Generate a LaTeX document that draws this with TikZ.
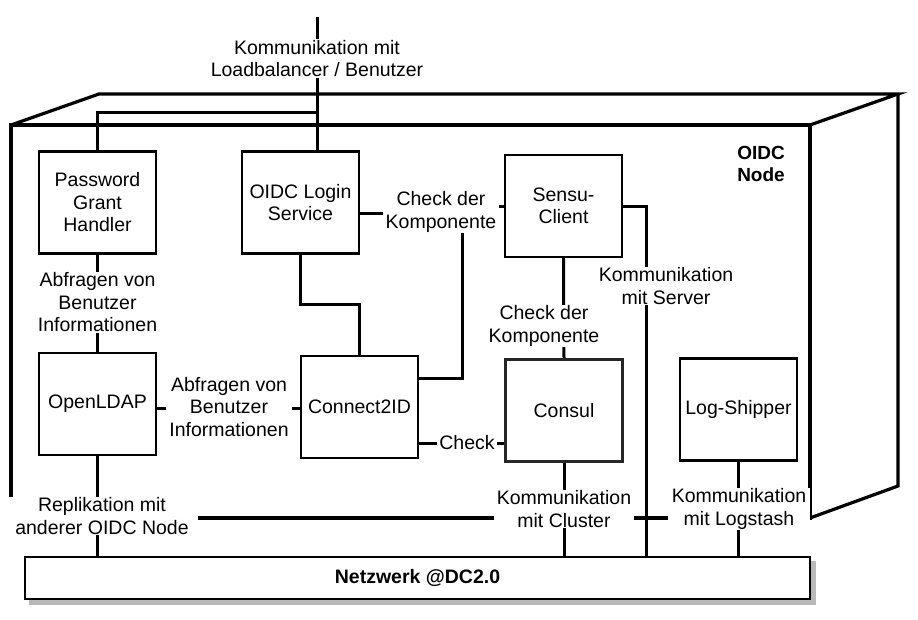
\documentclass[tikz,border=0pt]{standalone}
\usepackage{fontspec}
\setmainfont{Liberation Sans}
\usetikzlibrary{backgrounds}
\newcommand\lblfont{\fontsize{19.5}{22.5}\selectfont}
\newcommand\boldlbl{\fontsize{19}{22}\selectfont\bfseries}
\begin{document}
\begin{tikzpicture}[x=1pt,y=-1pt,
  comp/.style={draw, line width=2.2pt, fill=white, minimum width=117pt, minimum height=102pt, align=center, inner sep=2pt, font=\lblfont},
  lab/.style={fill=white, align=center, inner xsep=3pt, inner ysep=1pt, font=\lblfont},
  conn/.style={line width=3pt},
  cubeedge/.style={line width=3.2pt, line join=miter}]
\useasboundingbox (0,0) rectangle (918,620);

% components
\node[comp] (pgh)    at (97.5,202.5) {Password\\Grant\\Handler};
\node[comp] (login)  at (300.5,202.5) {OIDC Login\\Service};
\node[comp] (sensu)  at (563.5,206) {Sensu-\\Client};
\node[comp] (ldap)   at (97.5,404) {OpenLDAP};
\node[comp] (c2id)   at (359.5,407) {Connect2ID};
\node[comp, draw=black!85] (consul) at (564,410.5) {Consul};
\node[comp] (logs)   at (738.5,409.5) {Log-Shipper};
\node[draw, line width=2.2pt, fill=white, minimum width=785pt, minimum height=42pt, inner sep=0pt,
      font=\fontsize{19.5}{21}\selectfont\bfseries] (net) at (417.5,578) {Netzwerk @DC2.0};

% labels
\node[lab] (ltop)  at (317,58.5) {Kommunikation mit\\Loadbalancer / Benutzer};
\node[lab] (abf1)  at (97.5,302.5) {Abfragen von\\Benutzer\\Informationen};
\node[lab] (chk1)  at (441,212) {Check der\\Komponente};
\node[lab] (srv)   at (666,286) {Kommunikation\\mit Server};
\node[lab] (chk2)  at (544,326) {Check der\\Komponente};
\node[lab] (abf2)  at (229,407) {Abfragen von\\Benutzer\\Informationen};
\node[lab, inner xsep=2pt] (chkc) at (467,443) {Check};
\node[lab, minimum width=192pt] (repl) at (102,516) {Replikation mit\\anderer OIDC Node};
\node[lab] (clus)  at (564,509) {Kommunikation\\mit Cluster};
\node[lab, inner xsep=4pt] (logst) at (739,509) {Kommunikation\\mit Logstash};
\node[align=center, font=\boldlbl, inner sep=0pt] (oidc) at (761,164) {OIDC\\Node};

% coordinates
\coordinate (lbtop) at (317,17);
\coordinate (jpgh) at (317,113);
\coordinate (k1) at (300.5,304);
\coordinate (c1) at (440,214);
\coordinate (c2) at (440,207);
\coordinate (c3) at (462,214);
\coordinate (c4) at (462,378);
\coordinate (s1) at (646,207);
\coordinate (a1) at (229,408);
\coordinate (h1) at (467,443);

% cube corners
\coordinate (fa) at (11,125);
\coordinate (fb) at (810,125);
\coordinate (fc) at (810,518);
\coordinate (fd) at (11,518);
\coordinate (ba) at (99,94);
\coordinate (bb) at (898,94);
\coordinate (bc) at (898,486);

\begin{pgfonlayer}{background}
  \fill[gray!55] ([xshift=5pt,yshift=-5pt]net.south west) rectangle ([xshift=5pt,yshift=-5pt]net.north east);
  \draw[cubeedge] (fa) -- (fb) -- (fc) -- (fd) -- cycle;
  \draw[cubeedge] (fa) -- (ba) -- (bb) -- (fb);
  \draw[cubeedge] (bb) -- (bc) -- (fc);

  \draw[conn] (lbtop) -- (lbtop |- login.north);
  \draw[conn] (jpgh) -| (pgh.north);
  \draw[conn] (login.south) -- (k1) -| (c2id.north);
  \draw[conn] (login.east |- c1) -- (c1) -- (c2) -- (sensu.west |- c2);
  \draw[conn] (c2id.east |- c4) -- (c4) -- (c3);
  \draw[conn] (sensu.south) -- (consul.north);
  \draw[conn] (sensu.east |- s1) -- (s1) -- (s1 |- net.north);
  \draw[conn] (c2id.west |- a1) -- (ldap.east |- a1);
  \draw[conn] (c2id.east |- h1) -- (consul.west |- h1);
  \draw[conn] (pgh.south) -- (ldap.north);
  \draw[conn] (ldap.south) -- (ldap.south |- net.north);
  \draw[conn] (consul.south) -- (consul.south |- net.north);
  \draw[conn] (logs.south) -- (logs.south |- net.north);
\end{pgfonlayer}
\end{tikzpicture}
\end{document}
